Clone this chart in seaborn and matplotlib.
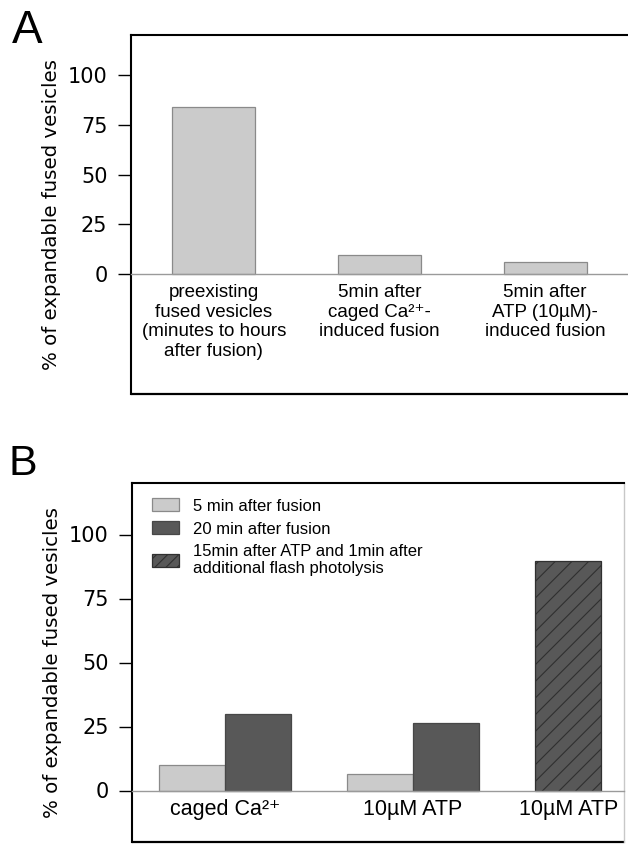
import numpy as np
import pandas as pd
import matplotlib.pyplot as plt
import seaborn as sns
from matplotlib.patches import Patch

# ==========================================================
# DATA
# ==========================================================

# panel A
labels_a = [
    "preexisting\nfused vesicles\n(minutes to hours\nafter fusion)",
    "5min after\ncaged Ca²⁺-\ninduced fusion",
    "5min after\nATP (10µM)-\ninduced fusion",
]
values_a = [83.8, 9.5, 6.0]

# panel B
groups_b = ["ca", "atp", "atp_flash"]
labels_b = ["caged Ca²⁺", "10µM ATP", "10µM ATP"]
series_b = [
    "5 min after fusion",
    "20 min after fusion",
    "15min after ATP and 1min after\nadditional flash photolysis",
]
values_5min = [9.9, 6.5]
values_20min = [30.0, 26.3]
values_flash = [89.6]

y_ticks = [0, 25, 50, 75, 100]
y_label = "% of expandable fused vesicles"

# ==========================================================
# STYLE
# ==========================================================

sns.set_theme(style="white")
plt.rcParams["font.family"] = ["DejaVu Sans"]
plt.rcParams["text.color"] = "black"
plt.rcParams["axes.labelcolor"] = "black"
plt.rcParams["xtick.color"] = "black"
plt.rcParams["ytick.color"] = "black"
plt.rcParams["hatch.linewidth"] = 0.8
plt.rcParams["hatch.color"] = "#2a2a2a"

narrow = ["Liberation Sans", "DejaVu Sans"]

light = "#cbcbcb"
light_edge = "#8a8a8a"
dark = "#585858"
dark_edge = "#474747"
hatch_edge = "#303030"

fig = plt.figure(figsize=(6.28, 8.44), dpi=100)


def frame(ax, ylim):
    ax.set_ylim(*ylim)
    ax.set_yticks(y_ticks)
    ax.tick_params(axis="y", direction="out", length=9.5, width=1.0,
                   color="black", labelsize=15, pad=7.5, left=True)
    ax.tick_params(axis="x", length=0)
    for side in ["left", "top"]:
        ax.spines[side].set_color("black")
        ax.spines[side].set_linewidth(1.5)
    ax.spines["bottom"].set_position(("data", 0))
    ax.spines["bottom"].set_color("#9a9a9a")
    ax.spines["bottom"].set_linewidth(1.0)
    ax.axhline(ylim[0], color="black", lw=1.6, clip_on=False)
    ax.set_xlabel("")
    ax.set_ylabel(y_label, fontsize=14.2, labelpad=5)


# ==========================================================
# PANEL A
# ==========================================================

ax_a = fig.add_axes([131 / 628, 1 - 394 / 844, 1 - 131 / 628, 359 / 844])

sns.barplot(
    x=list(range(len(values_a))),
    y=values_a,
    color=light,
    edgecolor=light_edge,
    linewidth=0.9,
    width=0.5,
    saturation=1,
    ax=ax_a,
)

frame(ax_a, (-60, 120))
ax_a.spines["right"].set_visible(False)
ax_a.set_xlim(-0.5, 2.5)
ax_a.set_xticks(range(len(labels_a)))
ax_a.set_xticklabels(labels_a, fontsize=13.5, family=narrow, linespacing=1.2)
ax_a.tick_params(axis="x", pad=7)

# ==========================================================
# PANEL B
# ==========================================================

ax_b = fig.add_axes([132.3 / 628, 1 - 841.7 / 844, (624 - 132.3) / 628, 358.4 / 844])

df_b = pd.DataFrame({
    "group": groups_b[:2] * 2,
    "series": [series_b[0]] * 2 + [series_b[1]] * 2,
    "value": values_5min + values_20min,
})

df_flash = pd.DataFrame({
    "group": groups_b[2:],
    "series": series_b[2:],
    "value": values_flash,
})

bar_w = 0.7

sns.barplot(
    data=df_b, x="group", y="value", hue="series",
    order=groups_b, hue_order=series_b[:2],
    palette={series_b[0]: light, series_b[1]: dark},
    dodge=True, width=bar_w, saturation=1,
    edgecolor=light_edge, linewidth=0.9,
    legend=False, ax=ax_b,
)
for bar in ax_b.containers[1]:
    bar.set_edgecolor(dark_edge)

# hatched bar sits in the first slot of the third group
sns.barplot(
    data=df_flash, x="group", y="value", hue="series",
    order=groups_b, hue_order=[series_b[2], series_b[1]],
    palette={series_b[2]: dark, series_b[1]: dark},
    dodge=True, width=bar_w, saturation=1,
    edgecolor=hatch_edge, linewidth=0.9, hatch="//",
    legend=False, ax=ax_b,
)

frame(ax_b, (-20, 120))
ax_b.spines["right"].set_color("#c8c8c8")
ax_b.spines["right"].set_linewidth(1.0)
ax_b.set_xlim(-0.493, 2.122)
ax_b.set_xticks([0, 1, 2 - bar_w / 4])
ax_b.set_xticklabels(labels_b, fontsize=15.5, family=narrow)
ax_b.tick_params(axis="x", pad=6)

handles = [
    Patch(facecolor=light, edgecolor=light_edge, linewidth=0.9),
    Patch(facecolor=dark, edgecolor=dark_edge, linewidth=0.9),
    Patch(facecolor=dark, edgecolor=hatch_edge, linewidth=0.9, hatch="///"),
]
ax_b.legend(
    handles, series_b,
    loc="upper left",
    bbox_to_anchor=(19.4 / 491.7, 1 - 15 / 358.4),
    borderaxespad=0, borderpad=0,
    frameon=False,
    prop={"family": narrow, "size": 12},
    handlelength=1.63, handleheight=0.84,
    handletextpad=0.84, labelspacing=0.45,
)

# ==========================================================
# PANEL LETTERS
# ==========================================================

fig.text(12 / 628, 1 - 43 / 844, "A", fontsize=33, family=narrow, va="baseline")
fig.text(8 / 628, 1 - 475 / 844, "B", fontsize=31, family=narrow, va="baseline")

fig.savefig("out.png", dpi=100)
